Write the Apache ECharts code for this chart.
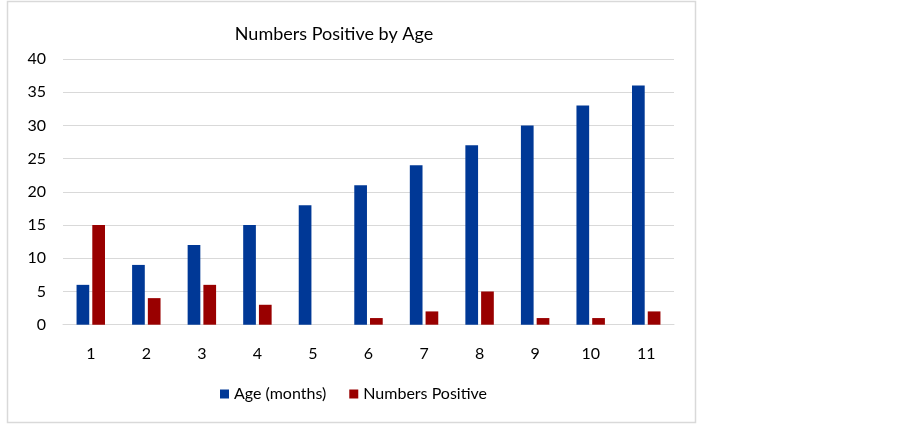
<!DOCTYPE html>
<html><head><meta charset="utf-8">
<script src="https://cdn.jsdelivr.net/npm/echarts@6/dist/echarts.min.js"></script>
<style>html,body{margin:0;padding:0;background:#fff}#c{width:903px;height:424px}</style>
</head><body><div id="c"></div>
<script>
const categories = ['1','2','3','4','5','6','7','8','9','10','11'];
const ageMonths = [6, 9, 12, 15, 18, 21, 24, 27, 30, 33, 36];
const numbersPositive = [15, 4, 6, 3, 0, 1, 2, 5, 1, 1, 2];
const FONT = 'Lato';
const chart = echarts.init(document.getElementById('c'), null, {renderer:'canvas'});
chart.setOption({
  animation:false,
  backgroundColor:'#fff',
  graphic:[{type:'rect', shape:{x:7.5,y:1.5,width:688,height:421}, style:{fill:'none',stroke:'#d9d9d9',lineWidth:1.5}}],
  title:{text:'Numbers Positive by Age', left:329, textAlign:'center', top:20,
    textStyle:{fontFamily:FONT,fontSize:18,fontWeight:'normal',color:'#000'}},
  grid:{left:63,right:229,top:59,bottom:99.3},
  legend:{data:['Age (months)','Numbers Positive'], left:215, top:381, itemWidth:9, itemHeight:9, itemGap:23,
    icon:'rect', textStyle:{fontFamily:FONT,fontSize:16,color:'#000'}},
  xAxis:{type:'category', data:categories, axisTick:{show:false},
    axisLine:{lineStyle:{color:'#d9d9d9'}},
    axisLabel:{fontFamily:FONT,fontSize:16,color:'#000',margin:21}},
  yAxis:{type:'value', min:0, max:40, interval:5,
    splitLine:{lineStyle:{color:'#d9d9d9',width:1.2}},
    axisLabel:{fontFamily:FONT,fontSize:16,color:'#000',margin:17}},
  series:[
    {name:'Age (months)', type:'bar', data:ageMonths, barWidth:12.7, barGap:'24%', itemStyle:{color:'#003896'}},
    {name:'Numbers Positive', type:'bar', data:numbersPositive, barWidth:12.7, itemStyle:{color:'#990000'}}
  ]
});
</script></body></html>
